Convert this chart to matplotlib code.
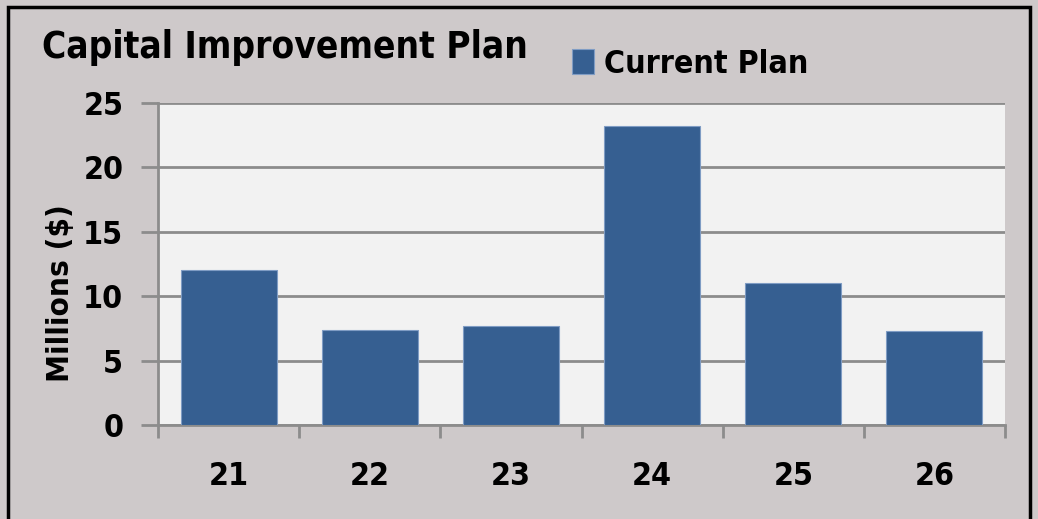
import matplotlib.pyplot as plt
from matplotlib.patches import Rectangle

plt.rcParams['font.family'] = ['DejaVu Sans']
plt.rcParams['font.weight'] = 'bold'
plt.rcParams['font.stretch'] = 'condensed'

years = ["21", "22", "23", "24", "25", "26"]
current_plan = [12.0, 7.4, 7.7, 23.2, 11.0, 7.3]

bg = "#CEC9CA"
bar_color = "#365F91"
grid_color = "#8C8C8C"

fig = plt.figure(figsize=(10.38, 5.19), dpi=100, facecolor=bg)
ax = fig.add_axes([158/1038, 1 - 425/519, (1005-158)/1038, (425-103)/519])
ax.set_facecolor("#F2F2F2")

x = range(len(years))
ax.bar(x, current_plan, width=0.68, color=bar_color, edgecolor="#7F9CC4",
       linewidth=0.8, label="Current Plan", zorder=3)

ax.set_xlim(-0.5, len(years) - 0.5)
ax.set_ylim(0, 25)
ax.set_yticks([0, 5, 10, 15, 20, 25])
ax.yaxis.grid(True, color=grid_color, linewidth=2, zorder=1)

# category boundaries get the tick marks, labels sit in between
ax.set_xticks([i + 0.5 for i in range(-1, len(years))], minor=False)
ax.set_xticklabels([])
ax.set_xticks(list(x), minor=True)
ax.set_xticklabels(years, minor=True, fontsize=23, fontweight="bold")
ax.tick_params(axis="x", which="minor", length=0, pad=26)
ax.tick_params(axis="x", which="major", length=9, width=2, color=grid_color, direction="out")
ax.tick_params(axis="y", length=12, width=2, color=grid_color, labelsize=23, pad=13)

for s in ["top", "right"]:
    ax.spines[s].set_visible(False)
for s in ["left", "bottom"]:
    ax.spines[s].set_color(grid_color)
    ax.spines[s].set_linewidth(2)

ax.set_ylabel("Millions ($)", fontsize=22.5, fontweight="bold")
ax.yaxis.set_label_coords(-0.098, 0.41)

fig.text(42/1038, 1 - 47/519, "Capital Improvement Plan", fontsize=26.6,
         fontweight="bold", va="center", ha="left")
ax.legend(loc="upper left", bbox_to_anchor=(543/1038, 1 - 20/519),
          bbox_transform=fig.transFigure, frameon=False, fontsize=23,
          handlelength=0.7, handleheight=0.85, handletextpad=0.3)

fig.patches.append(Rectangle((8/1038, -0.01), (1030-8)/1038, 1 - 7/519 + 0.01,
                             transform=fig.transFigure, fill=False,
                             edgecolor="black", linewidth=2.5))

fig.savefig("out.png", dpi=100, facecolor=bg)
